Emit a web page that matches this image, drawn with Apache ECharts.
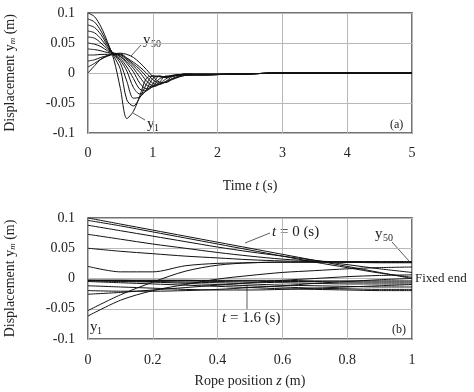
<!DOCTYPE html>
<html>
<head>
<meta charset="utf-8">
<script src="https://cdn.jsdelivr.net/npm/echarts/dist/echarts.min.js"></script>
<style>
html, body { margin: 0; padding: 0; background: #fff; }
#chart { width: 474px; height: 392px; }
</style>
</head>
<body>
<div id="chart"></div>
<script>
// (a) displacement of selected rope points over time
const timeA = [0, 0.1, 0.2, 0.3, 0.4, 0.5, 0.6, 0.7, 0.8, 0.9, 1.0, 1.1, 1.2, 1.3, 1.5, 1.8, 2.2, 2.6, 3, 4, 5];
const a_y1  = [0.100, 0.094, 0.077, 0.052, 0.022, -0.026, -0.076, -0.064, -0.038, -0.009, -0.005, -0.006, -0.007, -0.004, -0.002, -0.002, -0.002, -0.001, 0, 0, 0];
const a_y6  = [0.090, 0.085, 0.070, 0.049, 0.028, 0.006, -0.045, -0.055, -0.041, -0.019, -0.005, -0.006, -0.007, -0.004, -0.002, -0.002, -0.002, -0.001, 0, 0, 0];
const a_y11 = [0.080, 0.076, 0.064, 0.046, 0.031, 0.016, -0.014, -0.042, -0.040, -0.028, -0.009, -0.005, -0.007, -0.005, -0.002, -0.002, -0.002, -0.001, 0, 0, 0];
const a_y16 = [0.070, 0.067, 0.057, 0.043, 0.031, 0.021, 0.003, -0.024, -0.035, -0.030, -0.018, -0.005, -0.007, -0.005, -0.002, -0.002, -0.002, -0.001, 0, 0, 0];
const a_y21 = [0.060, 0.058, 0.050, 0.040, 0.032, 0.024, 0.010, -0.009, -0.027, -0.029, -0.022, -0.010, -0.006, -0.005, -0.002, -0.003, -0.002, -0.001, 0, 0, 0];
const a_y26 = [0.050, 0.048, 0.044, 0.037, 0.033, 0.027, 0.016, 0.002, -0.017, -0.026, -0.023, -0.016, -0.005, -0.005, -0.002, -0.003, -0.002, -0.001, 0, 0, 0];
const a_y30 = [0.040, 0.039, 0.037, 0.034, 0.033, 0.028, 0.019, 0.008, -0.007, -0.020, -0.023, -0.019, -0.010, -0.005, -0.003, -0.003, -0.002, -0.001, 0, 0, 0];
const a_y35 = [0.030, 0.030, 0.031, 0.031, 0.033, 0.030, 0.022, 0.012, 0.001, -0.013, -0.021, -0.019, -0.014, -0.006, -0.003, -0.003, -0.002, -0.001, 0, 0, 0];
const a_y40 = [0.020, 0.022, 0.026, 0.029, 0.032, 0.031, 0.024, 0.015, 0.006, -0.006, -0.017, -0.019, -0.015, -0.009, -0.003, -0.003, -0.002, -0.001, 0, 0, 0];
const a_y45 = [0.010, 0.016, 0.023, 0.028, 0.031, 0.032, 0.025, 0.018, 0.010, 0.000, -0.011, -0.017, -0.015, -0.010, -0.004, -0.003, -0.002, -0.001, 0, 0, 0];
const a_y50 = [0.000, 0.012, 0.023, 0.029, 0.032, 0.033, 0.031, 0.026, 0.017, 0.006, -0.006, -0.015, -0.016, -0.011, -0.004, -0.003, -0.002, -0.001, 0, 0, 0];

// (b) rope shape at snapshots t = 0 ... 1.6 s
const zPos = [0, 0.1, 0.2, 0.3, 0.4, 0.5, 0.6, 0.7, 0.8, 0.9, 1.0];
const b_t00 = [0.100, 0.090, 0.080, 0.070, 0.060, 0.050, 0.040, 0.030, 0.020, 0.010, 0.000];
const b_t01 = [0.096, 0.087, 0.077, 0.067, 0.057, 0.047, 0.037, 0.027, 0.018, 0.009, 0.002];
const b_t02 = [0.088, 0.079, 0.070, 0.061, 0.052, 0.044, 0.037, 0.030, 0.023, 0.016, 0.010];
const b_t03 = [0.073, 0.065, 0.057, 0.050, 0.043, 0.037, 0.032, 0.029, 0.027, 0.026, 0.026];
const b_t04 = [0.050, 0.045, 0.041, 0.037, 0.034, 0.031, 0.029, 0.028, 0.027, 0.027, 0.027];
const b_t05 = [0.020, 0.011, 0.011, 0.021, 0.025, 0.026, 0.027, 0.027, 0.027, 0.027, 0.027];
const b_t06 = [-0.053, -0.027, -0.006, 0.012, 0.022, 0.026, 0.027, 0.027, 0.028, 0.028, 0.028];
const b_t07 = [-0.062, -0.036, -0.020, -0.010, -0.001, 0.005, 0.010, 0.013, 0.016, 0.018, 0.019];
const b_t08 = [-0.026, -0.023, -0.019, -0.015, -0.011, -0.007, -0.003, 0.000, 0.003, 0.005, 0.006];
const b_t09 = [-0.020, -0.021, -0.021, -0.020, -0.018, -0.015, -0.012, -0.008, -0.005, -0.002, 0.000];
const b_t10 = [-0.012, -0.014, -0.016, -0.018, -0.019, -0.019, -0.018, -0.016, -0.014, -0.012, -0.010];
const b_t11 = [-0.005, -0.007, -0.009, -0.011, -0.013, -0.015, -0.017, -0.018, -0.019, -0.020, -0.020];
const b_t12 = [-0.004, -0.005, -0.006, -0.008, -0.010, -0.012, -0.014, -0.016, -0.017, -0.018, -0.018];
const b_t13 = [-0.003, -0.004, -0.005, -0.006, -0.007, -0.009, -0.011, -0.012, -0.013, -0.014, -0.014];
const b_t14 = [-0.003, -0.003, -0.004, -0.004, -0.005, -0.006, -0.007, -0.008, -0.009, -0.009, -0.009];
const b_t15 = [-0.003, -0.003, -0.003, -0.003, -0.004, -0.004, -0.005, -0.005, -0.006, -0.006, -0.006];
const b_t16 = [-0.003, -0.003, -0.003, -0.003, -0.003, -0.003, -0.003, -0.004, -0.004, -0.004, -0.004];

const curvesA = [a_y1, a_y6, a_y11, a_y16, a_y21, a_y26, a_y30, a_y35, a_y40, a_y45, a_y50];
const curvesB = [b_t00, b_t01, b_t02, b_t03, b_t04, b_t05, b_t06, b_t07, b_t08,
                 b_t09, b_t10, b_t11, b_t12, b_t13, b_t14, b_t15, b_t16];

const FONT = 'Liberation Serif';
const fmt = v => String(Number(v.toFixed(3)));

function makeLine(xs, ys, idx) {
    return {
        type: 'line',
        xAxisIndex: idx,
        yAxisIndex: idx,
        data: xs.map((x, i) => [x, ys[i]]),
        showSymbol: false,
        smooth: 0.3,
        silent: true,
        lineStyle: { color: '#111', width: 1 }
    };
}

function xAx(idx, min, max, interval, name) {
    return {
        gridIndex: idx, type: 'value', min: min, max: max, interval: interval,
        axisLine: { show: false }, axisTick: { show: false },
        splitLine: { lineStyle: { color: '#b8b8b8', width: 1 } },
        axisLabel: { fontFamily: FONT, fontSize: 14, color: '#222', margin: idx === 0 ? 13 : 14, formatter: fmt },
        name: name, nameLocation: 'middle', nameGap: idx === 0 ? 46 : 35,
        nameTextStyle: {
            fontFamily: FONT, fontSize: 14, color: '#222',
            rich: { i: { fontFamily: FONT, fontSize: 14, fontStyle: 'italic', color: '#222' } }
        }
    };
}

function yAx(idx) {
    return {
        gridIndex: idx, type: 'value', min: -0.1, max: 0.1, interval: 0.05,
        axisLine: { show: false }, axisTick: { show: false },
        splitLine: { lineStyle: { color: '#b8b8b8', width: 1 } },
        axisLabel: { fontFamily: FONT, fontSize: 14, color: '#222', margin: 13, formatter: fmt },
        name: 'Displacement y{s|m} (m)', nameLocation: 'middle', nameGap: 71, nameRotate: 90,
        nameTextStyle: {
            fontFamily: FONT, fontSize: 14, color: '#222',
            rich: { s: { fontFamily: FONT, fontSize: 9, fontStyle: 'italic', color: '#222', verticalAlign: 'bottom' } }
        }
    };
}

function txt(x, y, text, size, extra) {
    return {
        type: 'text', x: x, y: y, silent: true,
        style: Object.assign({ text: text, fontFamily: FONT, fontSize: size, fill: '#222',
            textVerticalAlign: 'middle' }, extra || {})
    };
}
function seg(x1, y1, x2, y2) {
    return { type: 'line', silent: true, shape: { x1: x1, y1: y1, x2: x2, y2: y2 },
             style: { stroke: '#333', lineWidth: 0.8 } };
}

const chart = echarts.init(document.getElementById('chart'), null, { renderer: 'canvas' });
chart.setOption({
    animation: false,
    backgroundColor: '#fff',
    grid: [
        { left: 88, top: 13, width: 324, height: 120, outerBoundsMode: 'none', containLabel: false,
          show: true, borderColor: '#444', borderWidth: 1.5 },
        { left: 88, top: 218, width: 324, height: 121, outerBoundsMode: 'none', containLabel: false,
          show: true, borderColor: '#444', borderWidth: 1.5 }
    ],
    xAxis: [xAx(0, 0, 5, 1, 'Time {i|t} (s)'), xAx(1, 0, 1, 0.2, 'Rope position {i|z} (m)')],
    yAxis: [yAx(0), yAx(1)],
    series: curvesA.map(c => makeLine(timeA, c, 0)).concat(curvesB.map(c => makeLine(zPos, c, 1))),
    graphic: [
        // (a) annotations
        seg(141, 45, 131, 56),
        txt(143, 40, 'y', 15),
        txt(151, 44, '50', 10),
        seg(133, 113, 145, 120),
        txt(147, 124, 'y', 15),
        txt(154, 128, '1', 10),
        txt(390, 125, '(a)', 12),
        // (b) annotations
        seg(245, 243, 270, 233),
        txt(272, 232, '{i|t} = 0 (s)', 15, { rich: { i: { fontFamily: FONT, fontSize: 15, fontStyle: 'italic', fill: '#222' } } }),
        seg(392, 242, 409, 261),
        txt(375, 234, 'y', 15),
        txt(383, 238, '50', 10),
        txt(415, 279, 'Fixed end', 13),
        txt(90, 327, 'y', 15),
        txt(97, 331, '1', 10),
        seg(247, 309, 247, 285),
        txt(222, 318, '{i|t} = 1.6 (s)', 15, { rich: { i: { fontFamily: FONT, fontSize: 15, fontStyle: 'italic', fill: '#222' } } }),
        txt(392, 330, '(b)', 12)
    ]
});
</script>
</body>
</html>
